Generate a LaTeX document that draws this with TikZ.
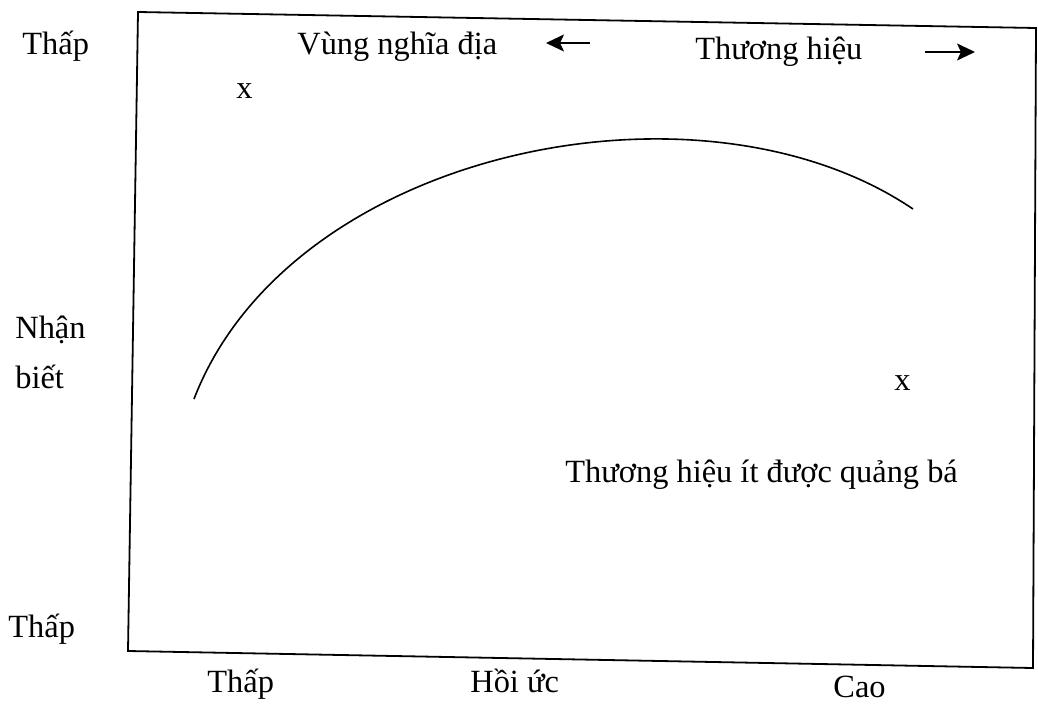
\documentclass[tikz,border=0pt]{standalone}
\usepackage{fontspec}
\setmainfont{Liberation Serif}
\usetikzlibrary{arrows.meta}

\begin{document}
\begin{tikzpicture}[
  x=0.5pt, y=-0.5pt,
  font=\fontsize{16.2}{19}\selectfont,
  lbl/.style={anchor=base west, inner sep=0pt},
  frame/.style={draw, line width=0.9pt},
  curve/.style={draw, line width=0.8pt},
  arrow/.style={-{Stealth[length=9pt, width=8.5pt, inset=2pt]}, line width=0.9pt}
]
\useasboundingbox (0,0) rectangle (1038,706);

% frame (slightly skewed, as scanned)
\coordinate (tl) at (138,12);
\coordinate (tr) at (1036,28);
\coordinate (br) at (1033,668);
\coordinate (bl) at (128,651);
\draw[frame] (tl) -- (tr) -- (br) -- (bl) -- cycle;

% vertical axis labels
\node[lbl] (ytop) at (22,55) {Thấp};
\node[lbl] (ymid1) at (15,338) {Nhận};
\node[lbl] (ymid2) at (15,388) {biết};
\node[lbl] (ybot) at (8,637) {Thấp};

% horizontal axis labels
\node[lbl] (xlow) at (207,692) {Thấp};
\node[lbl] (xmid) at (470,692) {Hồi ức};
\node[lbl] (xhigh) at (833,697) {Cao};

% top labels with arrows
\node[lbl] (grave) at (297,55) {Vùng nghĩa địa};
\node[lbl] (brand) at (695,60) {Thương hiệu};
\coordinate (la0) at (590,43);
\coordinate (la1) at (546,43);
\coordinate (ra0) at (925,52);
\coordinate (ra1) at (975,52);
\draw[arrow] (la0) -- (la1);
\draw[arrow] (ra0) -- (ra1);

% markers
\node[lbl] (m1) at (236,98) {x};
\node[lbl] (m2) at (894,390) {x};

% curve
\coordinate (c0) at (194,399);
\coordinate (c1) at (913,209);
\draw[curve] (c0) .. controls (290,150) and (700,65) .. (c1);

\node[lbl] (under) at (565,482) {Thương hiệu ít được quảng bá};
\end{tikzpicture}
\end{document}
